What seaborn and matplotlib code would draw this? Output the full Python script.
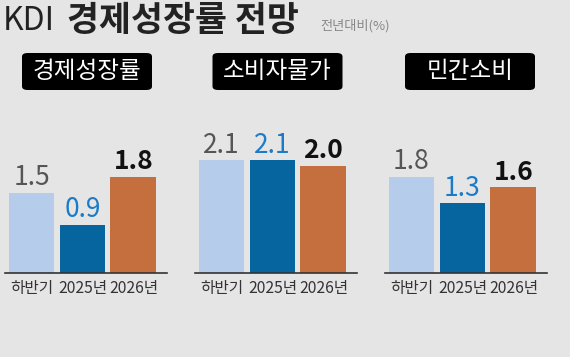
#!/usr/bin/env python3
"""KDI growth outlook - three small bar panels"""

import matplotlib
matplotlib.use("Agg")
import matplotlib.pyplot as plt
from matplotlib.patches import FancyBboxPatch
import pandas as pd
import seaborn as sns

# data
periods = ["하반기", "2025년", "2026년"]
panels = ["경제성장률", "소비자물가", "민간소비"]
gdp = [1.5, 0.9, 1.8]
cpi = [2.1, 2.1, 2.0]
consumption = [1.8, 1.3, 1.6]

bar_colors = ["#b5cdea", "#06659f", "#c56f3f"]
label_colors = ["#555555", "#1b7bc9", "#111111"]
label_weights = ["normal", "normal", "bold"]

W, H = 570, 357
BG = "#e5e5e5"

sns.set_theme(style="white")
plt.rcParams["font.family"] = ["Noto Sans CJK KR", "DejaVu Sans"]

fig = plt.figure(figsize=(W / 100, H / 100), dpi=100, facecolor=BG)

# panel placement in pixels (left edge of axis line, box centre x)
lefts = [5, 195, 385]
box_cx = [87, 277.5, 470]
base_y = 273
px_per_unit = 53.6
ymax = 2.3

for i, (name, vals) in enumerate(zip(panels, [gdp, cpi, consumption])):
    ax = fig.add_axes([lefts[i] / W, (H - base_y) / H, 162 / W,
                       ymax * px_per_unit / H])
    ax.set_facecolor("none")
    df = pd.DataFrame({"period": periods, "value": vals})
    sns.barplot(data=df, x="period", y="value", hue="period",
                palette=bar_colors, saturation=1, width=0.9, linewidth=0,
                legend=False, ax=ax)
    ax.set_xlim(-0.52, 2.66)
    ax.set_ylim(0, ymax)
    for s in ["top", "right", "left"]:
        ax.spines[s].set_visible(False)
    ax.spines["bottom"].set_color("#333333")
    ax.spines["bottom"].set_linewidth(1.2)
    ax.set_yticks([])
    ax.set_xlabel("")
    ax.set_ylabel("")
    ax.tick_params(axis="x", length=0, pad=5, labelsize=11.3,
                   labelcolor="#333333")
    for j, v in enumerate(vals):
        ax.annotate(f"{v:.1f}", (j, v), xytext=(0, 1),
                    textcoords="offset points", ha="center", va="bottom",
                    fontsize=19, color=label_colors[j],
                    fontweight=label_weights[j])

    # black title box
    bw, bh = 130, 37
    cy = 71.5
    box = FancyBboxPatch(((box_cx[i] - bw / 2) / W, (H - cy - bh / 2) / H),
                         bw / W, bh / H, boxstyle="round,pad=0,rounding_size=0.01",
                         transform=fig.transFigure, facecolor="black",
                         edgecolor="none")
    fig.patches.append(box)
    fig.text(box_cx[i] / W, (H - cy) / H, name, ha="center", va="center",
             color="white", fontsize=17, fontweight="medium")

fig.text(3 / W, (H - 21) / H, "KDI", ha="left", va="center",
         fontsize=23, fontweight="light", color="#222222")
fig.text(67 / W, (H - 21) / H, "경제성장률 전망", ha="left", va="center",
         fontsize=25, fontweight="bold", color="#222222")
fig.text(320 / W, (H - 26) / H, "전년대비(%)", ha="left", va="center",
         fontsize=9.5, color="#888888")

fig.savefig("out.png", dpi=100, facecolor=BG)
